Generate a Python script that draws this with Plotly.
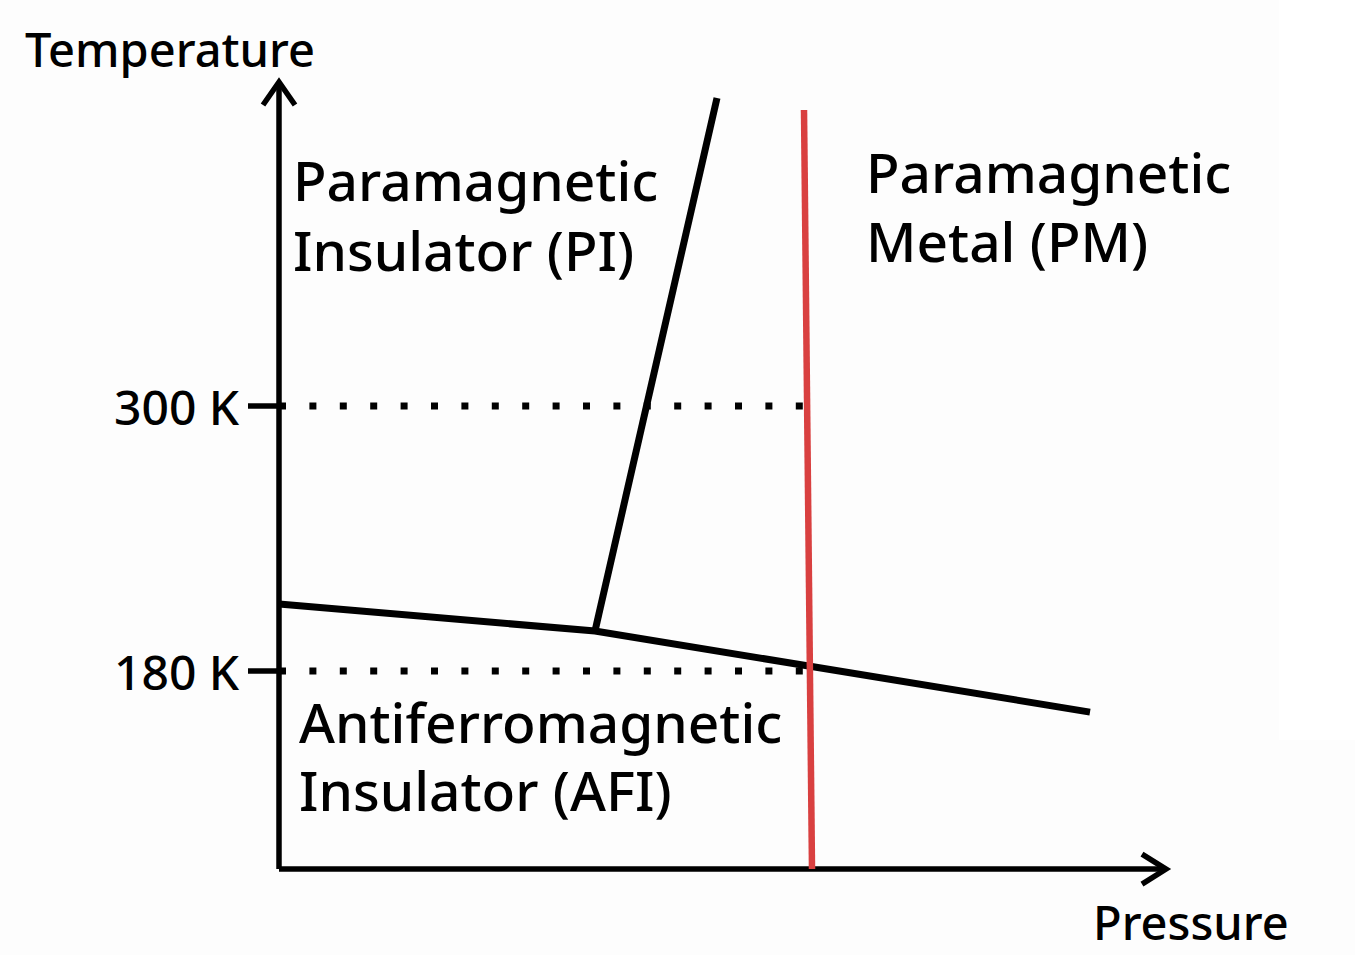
import plotly.graph_objects as go

# ---------------- data (schematic phase diagram) ----------------
# AFI / paramagnetic boundary (Neel line)
afi_pressure = [0.0, 3.16, 8.11]
afi_temp = [210.3, 198.1, 161.4]

# PI / PM crossover line (black)
pi_pressure = [3.16, 4.38]
pi_temp = [198.1, 439.5]

# metal-insulator line (red)
mit_pressure = [5.25, 5.33]
mit_temp = [434.0, 90.3]

# reference temperatures (dotted lines and ticks)
ref_temps = [300, 180]
ref_labels = ["300 K", "180 K"]
ref_end_pressure = [5.28, 5.31]

# axes
origin_p, origin_t = 0.0, 90.3
p_axis_end = 8.87
t_axis_end = 446.7

region_lines = [["Paramagnetic", "Insulator (PI)"],
                ["Paramagnetic", "Metal (PM)"],
                ["Antiferromagnetic", "Insulator (AFI)"]]

# ---------------- figure geometry ----------------
W, H = 1355, 955
PX_PER_P = 100.0          # pixels per pressure unit
PX_PER_K = 265.0 / 120.0  # pixels per kelvin
X0_PX, Y_REF_PX, T_REF = 279.0, 671.0, 180.0

x_range = [-X0_PX / PX_PER_P, (W - X0_PX) / PX_PER_P]
y_range = [T_REF - (H - Y_REF_PX) / PX_PER_K, T_REF + Y_REF_PX / PX_PER_K]

def px(x):
    return x / W

def py(y):
    return 1 - y / H

LW = 7
AW = 5.5
fig = go.Figure()

def add_line(xs, ys, color="black", width=LW, dash=None):
    fig.add_trace(go.Scatter(x=xs, y=ys, mode="lines",
                             line=dict(color=color, width=width, dash=dash),
                             hoverinfo="skip", showlegend=False))

# dotted reference lines
for t, pe in zip(ref_temps, ref_end_pressure):
    add_line([origin_p, pe], [t, t], width=7, dash="7px,23.4px")

# tick marks
for t in ref_temps:
    add_line([origin_p - 31 / PX_PER_P, origin_p], [t, t], width=AW)

# axes
add_line([origin_p, origin_p], [origin_t, t_axis_end], width=AW)
add_line([origin_p, p_axis_end], [origin_t, origin_t], width=AW)

# arrow heads (open chevrons)
dp, dt = 16 / PX_PER_P, 23 / PX_PER_K
add_line([origin_p - dp, origin_p, origin_p + dp],
         [t_axis_end - dt, t_axis_end, t_axis_end - dt], width=AW)
dp2, dt2 = 24 / PX_PER_P, 15 / PX_PER_K
add_line([p_axis_end - dp2, p_axis_end, p_axis_end - dp2],
         [origin_t + dt2, origin_t, origin_t - dt2], width=AW)

# phase boundaries
add_line(afi_pressure, afi_temp)
add_line(pi_pressure, pi_temp)
add_line(mit_pressure, mit_temp, color="#d94040", width=6.5)

FONT = "Noto Sans"
ann = []
# axis titles
ann.append(dict(text="Temperature", x=px(23), y=py(15), xanchor="left", yanchor="top",
                font=dict(size=47)))
ann.append(dict(text="Pressure", x=px(1091), y=py(888), xanchor="left", yanchor="top",
                font=dict(size=47)))
# tick labels
for t, lab in zip(ref_temps, ref_labels):
    ann.append(dict(text=lab, x=px(242), y=py(Y_REF_PX - (t - T_REF) * PX_PER_K),
                    xanchor="right", yanchor="middle", font=dict(size=48)))
# region labels (one annotation per line, positioned by baseline)
RS = 55
region_pos = [(291, [203, 273]), (864, [195, 264]), (297, [745, 813])]
for lines, (x0, baselines) in zip(region_lines, region_pos):
    for txt, b in zip(lines, baselines):
        ann.append(dict(text=txt, x=px(x0), y=py(b - 1.14 * RS), xanchor="left",
                        yanchor="top", align="left", font=dict(size=RS)))
for a in ann:
    a.update(xref="paper", yref="paper", showarrow=False)
    a["font"].update(family=FONT, color="black", weight=500)

fig.update_layout(
    width=W, height=H, autosize=False,
    margin=dict(l=0, r=0, t=0, b=0, pad=0),
    paper_bgcolor="#fdfdfd", plot_bgcolor="rgba(0,0,0,0)",
    xaxis=dict(range=x_range, visible=False, fixedrange=True),
    yaxis=dict(range=y_range, visible=False, fixedrange=True),
    annotations=ann,
    shapes=[dict(type="rect", xref="paper", yref="paper",
                 x0=px(1279), x1=1, y0=py(740), y1=1,
                 fillcolor="white", line=dict(width=0), layer="below")],
)

fig.write_html("out.html", config={"displayModeBar": False},
               post_script="document.body.style.margin='0';document.body.style.overflow='hidden';")
